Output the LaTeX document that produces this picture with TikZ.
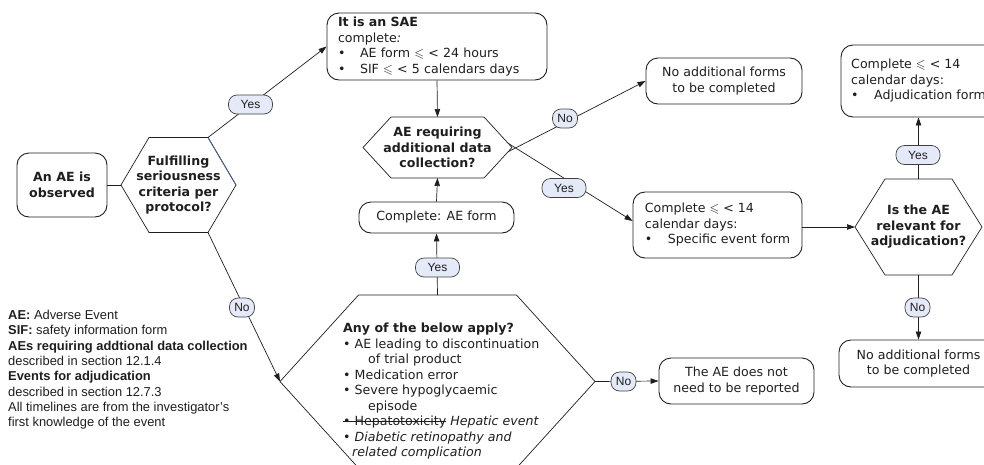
\documentclass[tikz,border=0pt]{standalone}
\usepackage{fontspec}
\setmainfont{DejaVu Sans}
\newfontfamily\legfont{Liberation Sans}
\usepackage{amssymb}
\usetikzlibrary{arrows.meta,calc}
\definecolor{ink}{RGB}{30,30,30}
\definecolor{pill}{RGB}{228,234,247}
\definecolor{blueedge}{RGB}{70,95,170}
\newcommand{\txtsize}{\fontsize{12.6}{15.5}\selectfont}
\newlength\strikelen
\newcommand{\strikeout}[1]{\settowidth{\strikelen}{#1}\rlap{\rule[0.3em]{\strikelen}{0.6pt}}#1}
\newcommand{\hexshape}[6]{%
  \coordinate (#1-c) at (#2,#3);
  \coordinate (#1-l) at ({#2-#4},#3);
  \coordinate (#1-r) at ({#2+#4},#3);
  \coordinate (#1-tl) at ({#2-#6},{#3-#5});
  \coordinate (#1-tr) at ({#2+#6},{#3-#5});
  \coordinate (#1-bl) at ({#2-#6},{#3+#5});
  \coordinate (#1-br) at ({#2+#6},{#3+#5});
  \coordinate (#1-t) at (#2,{#3-#5});
  \coordinate (#1-b) at (#2,{#3+#5});
  \draw[hexline] (#1-l) -- (#1-tl) -- (#1-tr) -- (#1-r) -- (#1-br) -- (#1-bl) -- cycle;
}
\begin{document}
\begin{tikzpicture}[x=1pt,y=-1pt,
  box/.style={draw=ink, line width=0.9pt, rounded corners=12pt, inner sep=0pt,
    align=center, font=\txtsize, text=ink},
  hexline/.style={draw=ink, line width=0.7pt},
  conn/.style={draw=ink, line width=0.7pt},
  arr/.style={conn, -{Triangle[length=8pt,width=5.5pt]}},
  yn/.style={draw=ink!85, fill=pill, rounded corners=8.5pt, line width=0.7pt,
    font=\legfont\fontsize{12}{12}\selectfont, text=ink, minimum height=19pt,
    minimum width=25pt, inner xsep=3pt, inner ysep=0pt},
  yes/.style={yn, minimum width=44pt},
  qtext/.style={font=\txtsize\bfseries, align=center, text=ink, inner sep=0pt}
]
\useasboundingbox (0,0) rectangle (984,464);
\clip (0,0) rectangle (984,464);

% boxes
\node[box, minimum width=90pt, minimum height=64pt, font=\txtsize\bfseries] (obs) at (62,185) {An AE is\\observed};
\node[box, align=left, text width=198pt, inner xsep=11pt, minimum height=67pt] (sae) at (437,46.5)
  {\textbf{It is an SAE}\\
   complete\textit{:}\\
   \makebox[22pt][l]{•}AE form $\leqslant$ < 24 hours\\
   \makebox[22pt][l]{•}SIF $\leqslant$ < 5 calendars days};
\node[box, minimum width=155pt, minimum height=31pt] (cae) at (436.5,217.5) {Complete: AE form};
\node[box, minimum width=156pt, minimum height=46pt] (noadd1) at (724,81) {No additional forms\\to be completed};
\node[box, align=left, minimum width=169pt, minimum height=66pt] (spec) at (717.5,225)
  {Complete $\leqslant$ < 14\\calendar days:\\\makebox[23pt][l]{•}Specific event form};
\node[box, align=left, minimum width=155pt, minimum height=72pt] (adj) at (918.5,81)
  {Complete $\leqslant$ < 14\\calendar days:\\\makebox[23pt][l]{•}Adjudication form};
\node[box, minimum width=159pt, minimum height=47pt] (noadd2) at (918.5,363.5) {No additional forms\\to be completed};
\node[box, minimum width=155pt, minimum height=46pt] (notrep) at (736.5,381) {The AE does not\\need to be reported};

% hexagons
\hexshape{h1}{178.5}{185}{57.5}{47.5}{29.5}
\draw[blueedge, line width=0.8pt] (h1-tr) -- (h1-r);
\hexshape{h2}{437.5}{147.5}{74.5}{30.5}{46.5}
\hexshape{h3}{918.5}{227}{63.5}{48}{33.5}
\hexshape{h4}{437.5}{381.5}{157.5}{86.5}{79}

\node[qtext] (q1) at (h1-c) {Fulfilling\\seriousness\\criteria per\\protocol?};
\node[qtext] (q2) at (h2-c) {AE requiring\\additional data\\collection?};
\node[qtext] (q3) at (h3-c) {Is the AE\\relevant for\\adjudication?};
\node[anchor=north west, align=left, inner sep=0pt, font=\txtsize, text=ink] (q4) at (343,323)
  {\textbf{Any of the below apply?}\\
   • AE leading to discontinuation\\
   \hspace*{25pt}of trial product\\
   • Medication error\\
   • Severe hypoglycaemic\\
   \hspace*{25pt}episode\\
   \strikeout{• Hepatotoxicity} \textit{Hepatic event}\\
   • \textit{Diabetic retinopathy and}\\
   \hspace*{9pt}\textit{related complication}};

% legend
\node[anchor=north west, align=left, inner sep=0pt, text=ink,
  font=\legfont\fontsize{12.9}{15.3}\selectfont] (legend) at (8,310)
  {\textbf{AE:} Adverse Event\\
   \textbf{SIF:} safety information form\\
   \textbf{AEs requiring addtional data collection}\\
   described in section 12.1.4\\
   \textbf{Events for adjudication}\\
   described in section 12.7.3\\
   All timelines are from the investigator’s\\
   first knowledge of the event};

% connectors
\coordinate (h2-rn) at ($(h2-r)!0.14!(h2-br)$);
\coordinate (h2-ry) at ($(h2-r)!0.14!(h2-tr)$);
\draw[conn] (obs.east) -- (h1-l);
\draw[arr] (h1-tr) -- (sae.west);
\draw[arr] (sae.south) -- (h2-t);
\draw[arr] (cae.north) -- (h2-b);
\draw[arr] (h2-rn) -- (noadd1.west);
\draw[arr] (h2-ry) -- ([yshift=4pt]spec.west);
\draw[arr] (h1-br) -- (h4-l);
\draw[arr] (h4-t) -- (cae.south);
\draw[arr] (h4-r) -- (notrep.west);
\draw[arr] (spec.east |- h3-l) -- (h3-l);
\draw[arr] (h3-t) -- (h3-t |- adj.south);
\draw[arr] (h3-b) -- (h3-b |- noadd2.north);

% labels
\node[yes] (l1) at (250.5,104.5) {Yes};
\node[yn] (l2) at (565,118.5) {No};
\node[yes] (l3) at (564,188) {Yes};
\node[yn] (l4) at (242,307.5) {No};
\node[yes] (l5) at (437.5,267.5) {Yes};
\node[yn] (l6) at (623.5,381.5) {No};
\node[yes] (l7) at (918,155) {Yes};
\node[yn] (l8) at (917.5,307.5) {No};
\end{tikzpicture}
\end{document}
